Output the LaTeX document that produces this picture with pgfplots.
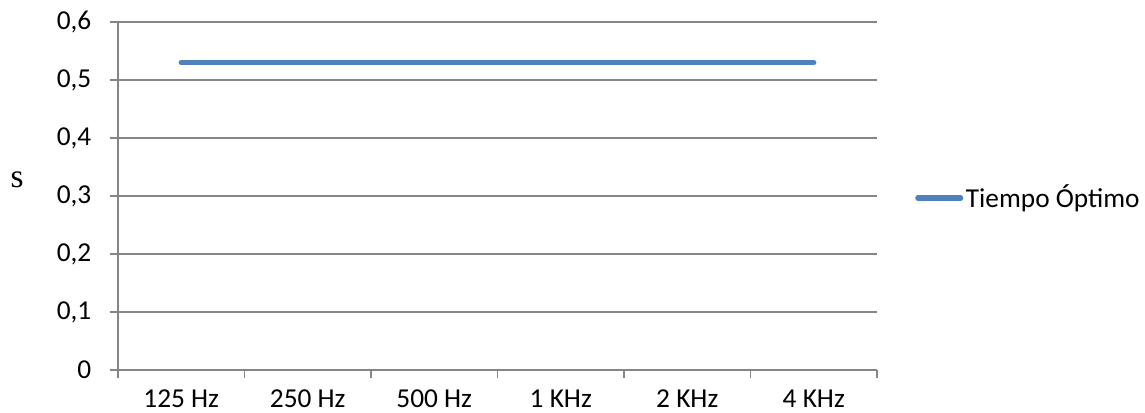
\documentclass[border=0pt]{standalone}
\usepackage{fontspec}
\setmainfont{Carlito}
\newfontfamily\serifs{Liberation Serif}
\usepackage{pgfplots}
\pgfplotsset{compat=1.18}
\definecolor{xlblue}{HTML}{4F81BD}
\definecolor{xlgray}{HTML}{868686}
\begin{document}
\fontsize{20.5}{24}\selectfont
\begin{tikzpicture}
\useasboundingbox (-88.5pt,-32.25pt) rectangle (770.25pt,277.5pt);
\begin{axis}[
  at={(0,0)}, anchor=south west,
  scale only axis, width=569.25pt, height=261pt,
  xmin=-0.5, xmax=5.5, ymin=0, ymax=0.6,
  axis x line*=bottom, axis y line*=left,
  axis line style={xlgray, line width=1pt, -},
  xtick={0,...,5},
  xticklabels={125 Hz,250 Hz,500 Hz,1 KHz,2 KHz,4 KHz},
  minor xtick={-0.5,0.5,...,5.5},
  major x tick style={draw=none},
  minor x tick style={xlgray, line width=1pt},
  minor tick length=6pt,
  ytick={0,0.1,...,0.6},
  ymajorgrids,
  grid style={xlgray, line width=1pt},
  major y tick style={xlgray, line width=1pt},
  major tick length=6pt,
  tick align=outside,
  /pgf/number format/use comma,
  /pgf/number format/fixed,
  /pgf/number format/precision=1,
  /pgf/number format/assume math mode=true,
  xticklabel style={yshift=-2pt},
  yticklabel style={xshift=-7pt},
  tick label style={font=\fontsize{20.5}{24}\selectfont},
  legend style={draw=none, at={(rel axis cs:1.05,0.494)}, anchor=west, font=\fontsize{20.5}{24}\selectfont, inner sep=0pt},
  legend image code/.code={\draw[#1] (0pt,0pt) -- (32pt,0pt);},
  legend cell align=left,
  clip=false,
]
\addplot[xlblue, line width=4pt, line cap=round] coordinates {(0,0.53) (1,0.53) (2,0.53) (3,0.53) (4,0.53) (5,0.53)};
\addlegendentry{Tiempo Óptimo}
\node at (rel axis cs:-0.133,0.546) {\fontsize{25}{28}\selectfont\serifs s};
\end{axis}
\end{tikzpicture}
\end{document}
